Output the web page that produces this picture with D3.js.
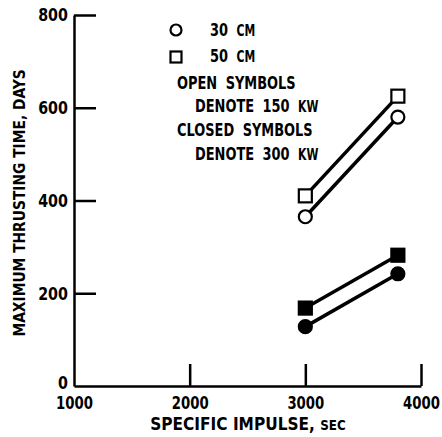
<!DOCTYPE html>
<html>
<head>
<meta charset="utf-8">
<script src="https://cdn.jsdelivr.net/npm/d3@7"></script>
<style>
  body { margin: 0; background: #fff; }
  svg text { font-family: "DejaVu Sans Condensed", "DejaVu Sans", sans-serif; font-weight: bold; fill: #000; }
</style>
</head>
<body>
<svg id="chart" width="442" height="437"></svg>
<script>
// values
var impulse = [3000, 3800]
var open30 = [365, 580]     // 30 cm, 150 kW
var open50 = [410, 625]     // 50 cm, 150 kW
var closed30 = [128, 242]   // 30 cm, 300 kW
var closed50 = [168, 282]   // 50 cm, 300 kW
var xTicks = [1000, 2000, 3000, 4000]
var yTicks = [0, 200, 400, 600, 800]

var series = [
  { values: open50, shape: 'square', filled: false },
  { values: open30, shape: 'circle', filled: false },
  { values: closed50, shape: 'square', filled: true },
  { values: closed30, shape: 'circle', filled: true }
]

var svg = d3.select('#chart')
var x = d3.scaleLinear().domain([1000, 4000]).range([74, 421])
var y = d3.scaleLinear().domain([0, 800]).range([386, 15])

// axes: ticks point inward like the original
var xAxis = d3.axisBottom(x).tickValues(xTicks).tickFormat(d3.format('d'))
  .tickSizeInner(-22).tickSizeOuter(0).tickPadding(10)
var yAxis = d3.axisLeft(y).tickValues(yTicks).tickFormat(d3.format('d'))
  .tickSizeInner(-22).tickSizeOuter(0).tickPadding(6)

var gx = svg.append('g').attr('transform', 'translate(0,' + y(0) + ')').call(xAxis)
var gy = svg.append('g').attr('transform', 'translate(' + x(1000) + ',0)').call(yAxis)

gx.selectAll('.domain, line').attr('stroke', '#000').attr('stroke-width', 2.5)
gy.selectAll('.domain, line').attr('stroke', '#000').attr('stroke-width', 2.5)
// squeeze the labels to mimic the narrow typewriter face
gx.selectAll('text').attr('font-size', 18).attr('transform', 'scale(0.82,1)')
gy.selectAll('text').attr('font-size', 18).attr('x', -7).attr('transform', 'scale(0.88,1)')
gy.selectAll('.tick').filter((d) => d === 0).select('text').attr('dy', '0.15em')
gx.selectAll('.tick').filter((d) => d === 1000).select('line').remove()
gy.selectAll('.tick').filter((d) => d === 0).select('line').remove()

// axis titles
svg.append('text')
  .attr('transform', 'translate(25,' + 203 + ') rotate(-90) scale(0.96,1)')
  .attr('text-anchor', 'middle')
  .attr('font-size', 16)
  .text('MAXIMUM THRUSTING TIME, DAYS')

var xt = svg.append('text')
  .attr('transform', 'translate(248,430) scale(0.95,1)')
  .attr('text-anchor', 'middle')
  .attr('font-size', 18)
xt.append('tspan').text('SPECIFIC IMPULSE, ')
xt.append('tspan').attr('font-size', 14).text('SEC')

// lines
var line = d3.line()
  .x((d, i) => x(impulse[i]))
  .y((d) => y(d))

svg.selectAll('path.series')
  .data(series)
  .enter().append('path')
    .attr('class', 'series')
    .attr('d', (d) => line(d.values))
    .attr('fill', 'none')
    .attr('stroke', '#000')
    .attr('stroke-width', 3.5)

// markers
function drawMarker (g, shape, filled, cx, cy, r) {
  if (shape === 'circle') {
    g.append('circle')
      .attr('cx', cx).attr('cy', cy).attr('r', r)
      .attr('fill', filled ? '#000' : '#fff')
      .attr('stroke', '#000').attr('stroke-width', 2.2)
  } else {
    g.append('rect')
      .attr('x', cx - r).attr('y', cy - r)
      .attr('width', 2 * r).attr('height', 2 * r)
      .attr('fill', filled ? '#000' : '#fff')
      .attr('stroke', '#000').attr('stroke-width', 2.2)
  }
}

var marks = svg.append('g')
series.forEach((s) => {
  s.values.forEach((v, i) => drawMarker(marks, s.shape, s.filled, x(impulse[i]), y(v), 6.5))
})

// legend
var legend = svg.append('g')
drawMarker(legend, 'circle', false, 176, 30, 5.5)
drawMarker(legend, 'square', false, 176, 57, 5.5)

function legendText (tx, ty, main, small) {
  var t = legend.append('text')
    .attr('transform', 'translate(' + tx + ',' + ty + ') scale(0.8,1)')
    .attr('font-size', 18)
    .attr('word-spacing', 5)
  t.append('tspan').text(main)
  if (small) t.append('tspan').attr('font-size', 15).text(small)
}
legendText(210, 36, '30 ', 'CM')
legendText(210, 62, '50 ', 'CM')
legendText(177, 89, 'OPEN SYMBOLS')
legendText(195, 112, 'DENOTE 150 ', 'KW')
legendText(177, 136, 'CLOSED SYMBOLS')
legendText(195, 160, 'DENOTE 300 ', 'KW')
</script>
</body>
</html>
